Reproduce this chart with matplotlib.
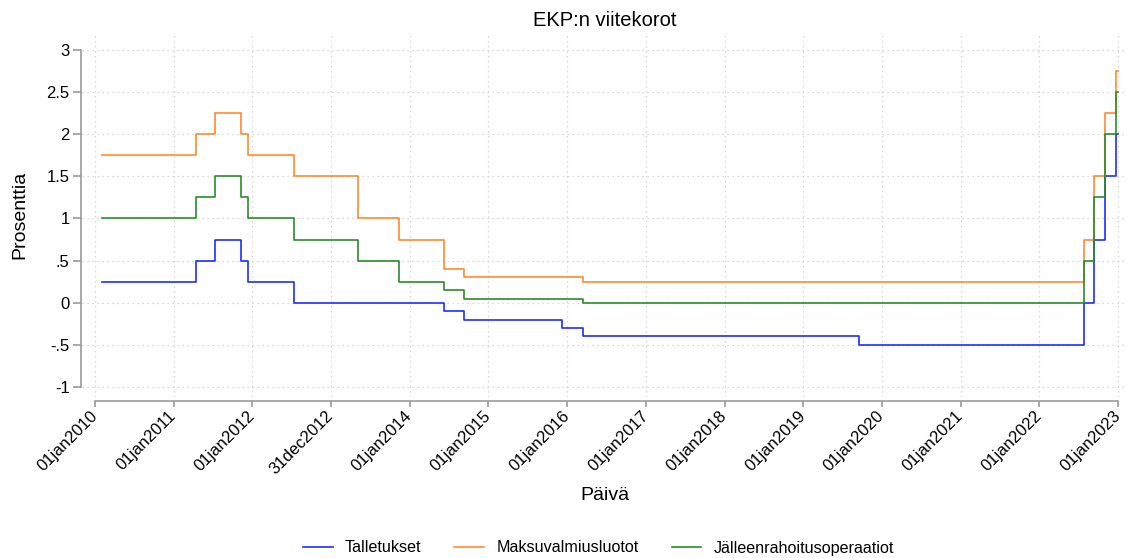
import matplotlib
matplotlib.use("Agg")
import matplotlib.pyplot as plt
import matplotlib.dates as mdates
import pandas as pd

plt.rcParams['font.family'] = ['Liberation Sans', 'DejaVu Sans']

# Change dates (policy decisions) and rates
change_dates = ["2010-02-01", "2011-04-13", "2011-07-13", "2011-11-09", "2011-12-14",
                "2012-07-11", "2013-05-08", "2013-11-13", "2014-06-11", "2014-09-10",
                "2015-12-09", "2016-03-16", "2019-09-18", "2022-07-27", "2022-09-14",
                "2022-11-02", "2022-12-21", "2023-01-01"]
talletukset = [0.25, 0.50, 0.75, 0.50, 0.25, 0.00, 0.00, 0.00, -0.10, -0.20,
               -0.30, -0.40, -0.50, 0.00, 0.75, 1.50, 2.00, 2.00]
maksuvalmiusluotot = [1.75, 2.00, 2.25, 2.00, 1.75, 1.50, 1.00, 0.75, 0.40, 0.30,
                      0.30, 0.25, 0.25, 0.75, 1.50, 2.25, 2.75, 2.75]
jalleenrahoitus = [1.00, 1.25, 1.50, 1.25, 1.00, 0.75, 0.50, 0.25, 0.15, 0.05,
                   0.05, 0.00, 0.00, 0.50, 1.25, 2.00, 2.50, 2.50]

tick_dates = ["2010-01-01", "2011-01-01", "2012-01-01", "2012-12-31", "2014-01-01",
              "2015-01-01", "2016-01-01", "2017-01-01", "2018-01-01", "2019-01-01",
              "2020-01-01", "2021-01-01", "2022-01-01", "2023-01-01"]
tick_labels = ["01jan2010", "01jan2011", "01jan2012", "31dec2012", "01jan2014",
               "01jan2015", "01jan2016", "01jan2017", "01jan2018", "01jan2019",
               "01jan2020", "01jan2021", "01jan2022", "01jan2023"]
y_ticks = [-1, -0.5, 0, 0.5, 1, 1.5, 2, 2.5, 3]
y_labels = ["-1", "-.5", "0", ".5", "1", "1.5", "2", "2.5", "3"]

dates = pd.to_datetime(change_dates)
tdates = pd.to_datetime(tick_dates)

W, H = 1127, 558
fig = plt.figure(figsize=(W / 100, H / 100), dpi=100)
ax = fig.add_axes([82 / W, 1 - 397 / H, 1 - 82 / W, (397 - 35) / H])

c_blue = "#1f2eff"
c_orange = "#ff8a30"
c_green = "#2a8c2a"

ax.plot(dates, talletukset, drawstyle="steps-post", color=c_blue, lw=1.2, label="Talletukset")
ax.plot(dates, maksuvalmiusluotot, drawstyle="steps-post", color=c_orange, lw=1.2, label="Maksuvalmiusluotot")
ax.plot(dates, jalleenrahoitus, drawstyle="steps-post", color=c_green, lw=1.2, label="Jälleenrahoitusoperaatiot")

ax.set_xlim(pd.Timestamp("2009-11-02"), pd.Timestamp("2023-02-12"))
ax.set_ylim(-1.119, 3.178)

ax.grid(True, color="#cccccc", linestyle=(0, (1, 3)), linewidth=0.9)
for s in ["top", "right"]:
    ax.spines[s].set_visible(False)
ax.spines["left"].set_position(("outward", 1))
ax.spines["bottom"].set_position(("outward", 3))
ax.spines["left"].set_bounds(-1, 3)
ax.spines["bottom"].set_bounds(mdates.date2num(tdates[0]), mdates.date2num(tdates[-1]))
for s in ["left", "bottom"]:
    ax.spines[s].set_color("#999999")
    ax.spines[s].set_linewidth(1.2)
ax.tick_params(axis="both", colors="#999999", labelcolor="black", width=1.2,
               labelsize=12)
ax.tick_params(axis="y", pad=2, length=6)
ax.tick_params(axis="x", pad=5, length=4, labelrotation=45)

ax.set_xticks(tdates, tick_labels)
ax.set_yticks(y_ticks, y_labels)
for lab in ax.get_xticklabels():
    lab.set_ha("right")
    lab.set_va("center")
    lab.set_rotation_mode("anchor")

fig.text(604.5 / W, 1 - 20 / H, "EKP:n viitekorot", ha="center", va="center", fontsize=14.5)
fig.text(604.5 / W, 1 - 496 / H, "Päivä", ha="center", va="center", fontsize=14)
fig.text(20 / W, 1 - 215 / H, "Prosenttia", ha="center", va="center", rotation=90, fontsize=14)

fig.legend(loc="center left", bbox_to_anchor=(303 / W, 1 - 548 / H), ncol=3, frameon=False,
           fontsize=11.6, handlelength=1.85, handletextpad=0.75, columnspacing=2.05,
           borderpad=0, borderaxespad=0)

fig.savefig("out.png", dpi=100)
